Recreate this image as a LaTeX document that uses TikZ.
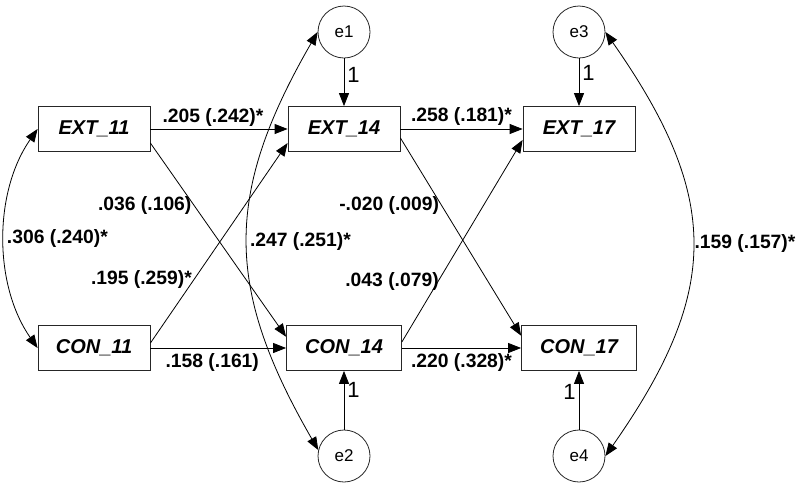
\documentclass[tikz,border=0pt]{standalone}
\usepackage{fontspec}
\setmainfont{Liberation Sans}
\usetikzlibrary{positioning}
\usetikzlibrary{arrows.meta}

\begin{document}
\begin{tikzpicture}[x=1pt,y=1pt,line width=0.8pt,>={Triangle[length=13pt,width=10pt]},
  obs/.style={draw=black!85,rectangle,minimum width=112pt,minimum height=45pt,font=\fontsize{20}{20}\selectfont\bfseries\itshape},
  err/.style={draw=black!85,circle,minimum size=52pt,inner sep=0pt,font=\fontsize{17}{17}\selectfont},
  coef/.style={font=\fontsize{19.3}{19.3}\selectfont\bfseries,inner sep=2pt},
  one/.style={font=\fontsize{22}{22}\selectfont,inner sep=3pt}]
\useasboundingbox (0,0) rectangle (800,-491);
\node[obs] (ext11) at (94,-129) {EXT\_11};
\node[obs,node distance=250pt] (ext14) [right of=ext11] {EXT\_14};
\node[obs,node distance=235pt] (ext17) [right of=ext14] {EXT\_17};
\node[obs,node distance=219pt] (con11) [below of=ext11] {CON\_11};
\node[obs,node distance=219pt,minimum width=115pt] (con14) [below of=ext14] {CON\_14};
\node[obs,node distance=219pt,minimum width=115pt] (con17) [below of=ext17] {CON\_17};
\node[err,node distance=97pt] (e1) [above of=ext14] {e1};
\node[err,node distance=97pt] (e3) [above of=ext17] {e3};
\node[err,node distance=108pt] (e2) [below of=con14] {e2};
\node[err,node distance=108pt] (e4) [below of=con17] {e4};
% paths between the two waves
\path[->]
    (ext11.east) edge node[coef,above=0pt,xshift=-6pt] (b1) {.205 (.242)*} (ext14.west)
    (ext14.east) edge node[coef,above=1pt] (b2) {.258 (.181)*} (ext17.west)
    (con11.east) edge node[coef,below=3pt,xshift=-6pt] (b3) {.158 (.161)} (con14.west)
    (con14.east) edge node[coef,below=3pt] (b4) {.220 (.328)*} (con17.west)
    (ext11.-14) edge node[coef,pos=0.32,anchor=east] (x1) {.036 (.106)} (con14.169)
    (con11.5) edge node[coef,pos=0.32,anchor=east] (x2) {.195 (.259)*} (ext14.194)
    (ext14.-9) edge node[coef,pos=0.34,anchor=east] (x3) {-.020 (.009)} (con17.168)
    (con14.6) edge node[coef,pos=0.3,anchor=east,xshift=3pt] (x4) {.043 (.079)} (ext17.191)
;
% residuals
\path[->]
    (e1) edge node[one,right,pos=0.35] (w1) {1} (ext14)
    (e3) edge node[one,right,pos=0.3] (w3) {1} (ext17)
    (e2) edge node[one,right,pos=0.67] (w2) {1} (con14)
    (e4) edge node[one,left,pos=0.65] (w4) {1} (con17)
;
% covariances
\path[<->]
    (ext11.west) edge[out=235,in=125,looseness=0.9] node[coef,right] (r1) {.306 (.240)*} (con11.west)
    (e1.west) edge[out=240,in=120,looseness=1.15] node[coef,right] (r2) {.247 (.251)*} (e2.167)
    (e3.east) edge[out=-55,in=55,looseness=1.22] node[coef,right] (r3) {.159 (.157)*} (e4.east)
;
\end{tikzpicture}
\end{document}
